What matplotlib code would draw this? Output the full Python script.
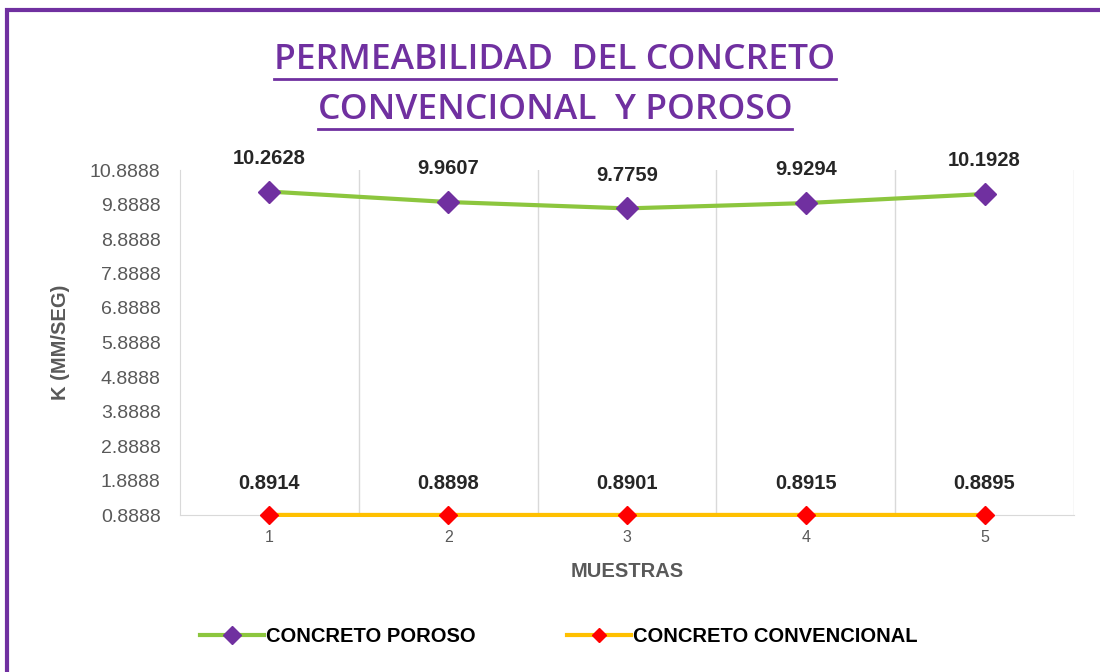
import numpy as np
import matplotlib.pyplot as plt
from matplotlib.patches import Rectangle
from matplotlib.lines import Line2D

plt.rcParams['font.family'] = ['Liberation Sans', 'DejaVu Sans']

# Datos
muestras = ['1', '2', '3', '4', '5']
poroso = [10.2628, 9.9607, 9.7759, 9.9294, 10.1928]
convencional = [0.8914, 0.8898, 0.8901, 0.8915, 0.8895]
yticks = [0.8888 + i for i in range(11)]

morado = '#7030A0'
verde = '#8CC63E'
amarillo = '#FFC000'
rojo = '#FF0000'
gris = '#595959'

fig = plt.figure(figsize=(11, 6.72), dpi=100)
fig.patch.set_facecolor('white')

# Borde morado
fig.patches.append(Rectangle((0.006, -0.05), 1.1, 1.035, transform=fig.transFigure,
                             fill=False, edgecolor=morado, linewidth=3))

ax = fig.add_axes([180/1100, 1-515/672, (1074-180)/1100, (515-170)/672])

x = np.arange(len(muestras)) + 0.5
ax.plot(x, poroso, color=verde, lw=3, marker='D', ms=11, mfc=morado, mec=morado,
        clip_on=False, zorder=3, label='CONCRETO POROSO')
ax.plot(x, convencional, color=amarillo, lw=3, marker='D', ms=9, mfc=rojo, mec=rojo,
        clip_on=False, zorder=3, label='CONCRETO CONVENCIONAL')

for xi, v in zip(x, poroso):
    ax.annotate(f'{v:.4f}', (xi, v), xytext=(0, 17), textcoords='offset points',
                ha='center', va='bottom', fontsize=14.5, fontweight='bold', color='#262626')
for xi, v in zip(x, convencional):
    ax.annotate(f'{v:.4f}', (xi, v), xytext=(0, 16), textcoords='offset points',
                ha='center', va='bottom', fontsize=14.5, fontweight='bold', color='#262626')

ax.set_xlim(0, 5)
ax.set_ylim(0.8888, 10.8888)
ax.set_xticks(x)
ax.set_xticklabels(muestras)
ax.set_yticks(yticks)
ax.set_yticklabels([f'{t:.4f}' for t in yticks])
ax.tick_params(length=0, colors=gris, labelsize=14)
ax.tick_params(axis='y', pad=14)
ax.tick_params(axis='x', pad=11, labelsize=11.5)

for g in range(1, 6):
    ax.axvline(g, color='#D9D9D9', lw=1, zorder=0)
for s in ['top', 'right']:
    ax.spines[s].set_visible(False)
ax.spines['left'].set_color('#D9D9D9')
ax.spines['bottom'].set_color('#D9D9D9')

ax.set_xlabel('MUESTRAS', fontsize=14.5, fontweight='bold', color=gris, labelpad=12)
ax.set_ylabel('K (MM/SEG)', fontsize=14.5, fontweight='bold', color=gris, labelpad=14)

# Titulo subrayado
t1 = fig.text(555/1100, 1-60/672, 'PERMEABILIDAD  DEL CONCRETO', ha='center', va='center',
              fontsize=25.5, fontweight='semibold', color=morado, family=['Open Sans', 'DejaVu Sans'])
t2 = fig.text(555/1100, 1-110/672, 'CONVENCIONAL  Y POROSO', ha='center', va='center',
              fontsize=25.5, fontweight='semibold', color=morado, family=['Open Sans', 'DejaVu Sans'])
fig.canvas.draw()
r = fig.canvas.get_renderer()
for t, yl in [(t1, 79), (t2, 129)]:
    bb = t.get_window_extent(r).transformed(fig.transFigure.inverted())
    fig.lines.append(Line2D([bb.x0, bb.x1], [1-yl/672, 1-yl/672], transform=fig.transFigure,
                            color=morado, lw=2))

leg = fig.legend(handles=[
    Line2D([], [], color=verde, lw=3, marker='D', ms=9, mfc=morado, mec=morado),
    Line2D([], [], color=amarillo, lw=3, marker='D', ms=7, mfc=rojo, mec=rojo)],
    labels=['CONCRETO POROSO', 'CONCRETO CONVENCIONAL'],
    loc='center', bbox_to_anchor=(0.508, 1-637/672), ncol=2, frameon=False,
    prop={'weight': 'bold', 'size': 14.5}, handlelength=3.2, columnspacing=4.5,
    handletextpad=0.1)

fig.savefig('out.png', dpi=100)
